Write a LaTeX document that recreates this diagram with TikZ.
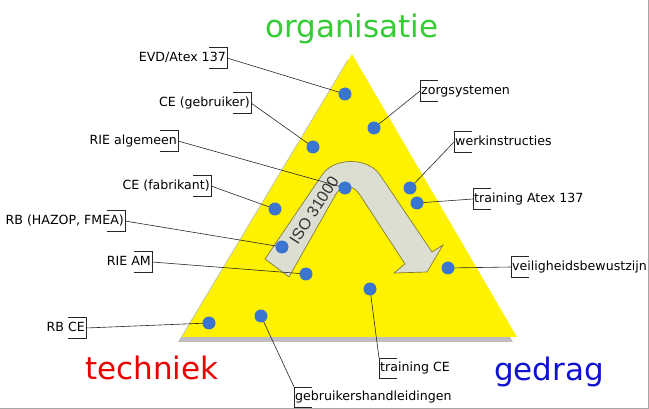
\documentclass[tikz,border=0pt]{standalone}
\usepackage{fontspec}
\setmainfont{DejaVu Sans}
\newfontfamily\isofont{Liberation Sans}
\definecolor{dotblue}{RGB}{58,118,208}
\definecolor{shadowgray}{RGB}{190,190,190}
\definecolor{arrowfill}{RGB}{220,222,210}
\definecolor{arrowline}{RGB}{130,125,50}
\definecolor{orggreen}{RGB}{51,204,51}
\definecolor{techred}{RGB}{235,0,0}
\definecolor{gedragblue}{RGB}{16,16,210}

\begin{document}
\begin{tikzpicture}[x=1pt,y=-1pt,
  lbl/.style={inner sep=1pt,minimum height=20pt,text height=9.5pt,text depth=2.7pt,
    font=\fontsize{12.6}{15}\selectfont},
  title/.style={font=\fontsize{31}{36}\selectfont},
  leader/.style={draw=black!85,line width=0.6pt}]
\useasboundingbox (0,0) rectangle (649,409);
\draw[gray!70] (0,408) -- (648,408) -- (648,0);

% triangle with shadow
\fill[shadowgray] (348,59) -- (178,342) -- (513,342) -- cycle;
\fill[yellow] (352,54) -- (182,337) -- (517,337) -- cycle;

% ISO 31000 arrow
\filldraw[fill=arrowfill,draw=arrowline,line width=0.7pt]
  (265,259) -- (322,175) .. controls (334,157) and (368,157) .. (380,175)
  -- (432,252) -- (443,245) -- (427,272) -- (394,273) -- (405,264)
  -- (360,195) .. controls (353,184) and (342,184) .. (336,194)
  -- (289,277) -- cycle;
\node[rotate=57,text=black!80,font=\isofont\fontsize{16}{18}\selectfont] (iso) at (314,210) {ISO 31000};

% labels left
\node[lbl,anchor=east] (evd) at (227,58) {EVD/Atex 137};
\node[lbl,anchor=east] (ceg) at (251,103) {CE (gebruiker)};
\node[lbl,anchor=east] (riea) at (178,141) {RIE algemeen};
\node[lbl,anchor=east] (cef) at (211,186) {CE (fabrikant)};
\node[lbl,anchor=east] (rbh) at (125,221) {RB (HAZOP, FMEA)};
\node[lbl,anchor=east] (riam) at (152,262) {RIE AM};
\node[lbl,anchor=east] (rbce) at (86,328) {RB CE};
% labels right
\node[lbl,anchor=west] (zorg) at (420,91) {zorgsystemen};
\node[lbl,anchor=west] (werk) at (454,142) {werkinstructies};
\node[lbl,anchor=west] (tatex) at (473,199) {training Atex 137};
\node[lbl,anchor=west] (veil) at (511,267) {veiligheidsbewustzijn};
\node[lbl,anchor=west] (tce) at (379,368) {training CE};
\node[lbl,anchor=west] (gebr) at (294,397) {gebruikershandleidingen};

% dot positions
\coordinate (d1) at (345,94);
\coordinate (d2) at (374,128);
\coordinate (d3) at (313,147);
\coordinate (d4) at (345,188);
\coordinate (d5) at (410,188);
\coordinate (d6) at (417,203);
\coordinate (d7) at (275,209);
\coordinate (d8) at (282,247);
\coordinate (d9) at (306,274);
\coordinate (d10) at (448,268);
\coordinate (d11) at (370,289);
\coordinate (d12) at (261,316);
\coordinate (d13) at (209,323);

% brackets and leaders
\foreach \n in {evd,ceg,riea,cef,rbh,riam,rbce}
  \draw[leader] ([xshift=-18pt]\n.north east) -- (\n.north east) -- (\n.south east) -- ([xshift=-18pt]\n.south east);
\foreach \n in {zorg,werk,tatex,veil,tce,gebr}
  \draw[leader] ([xshift=18pt]\n.north west) -- (\n.north west) -- (\n.south west) -- ([xshift=18pt]\n.south west);
\foreach \n/\d in {evd/d1,ceg/d3,riea/d4,cef/d7,rbh/d8,riam/d9,rbce/d13}
  \draw[leader] (\n.east) -- (\d);
\foreach \n/\d in {zorg/d2,werk/d5,tatex/d6,veil/d10}
  \draw[leader] (\n.west) -- (\d);
\draw[leader] (tce.north west) -- (d11);
\draw[leader] (gebr.north west) -- (d12);

% dots on top of leaders
\foreach \d in {d1,d2,d3,d4,d5,d6,d7,d8,d9,d10,d11,d12,d13}
  \fill[dotblue] (\d) circle[radius=6.5pt];

% corner titles
\node[title,text=orggreen] (org) at (352,29) {organisatie};
\node[title,text=techred] (tech) at (152,368) {techniek};
\node[title,text=gedragblue] (ged) at (549,372) {gedrag};
\end{tikzpicture}
\end{document}
